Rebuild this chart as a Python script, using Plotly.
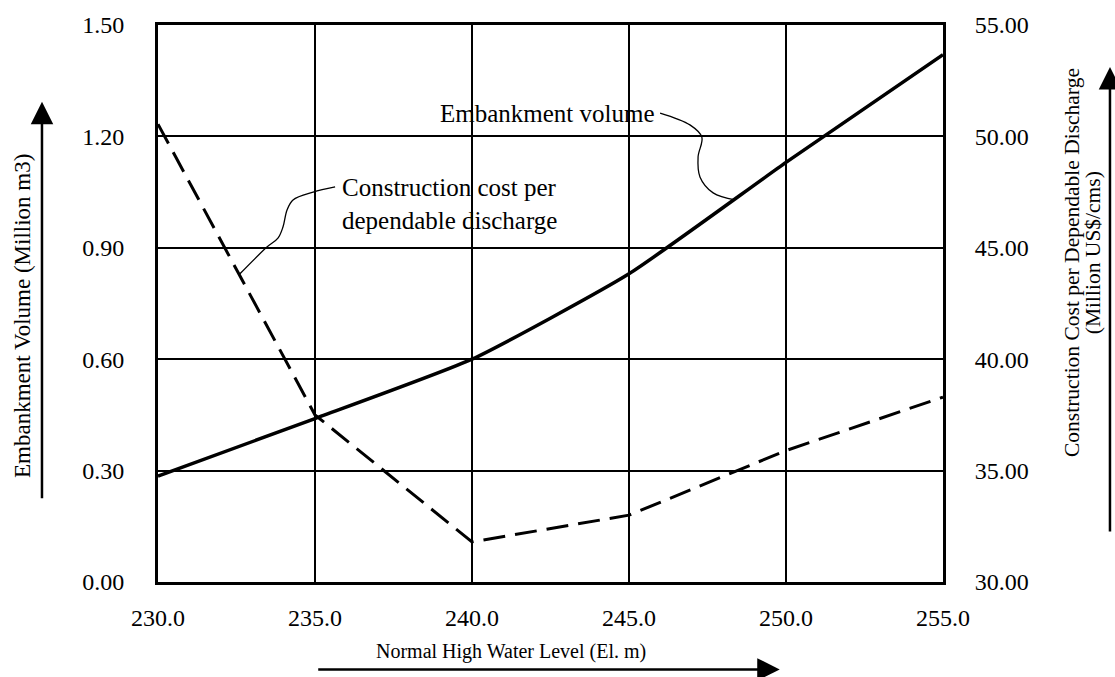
import plotly.graph_objects as go

# Normal high water level (El. m)
water_level = [230.0, 235.0, 240.0, 245.0, 250.0, 255.0]
# Embankment volume (million m3), left axis
embankment_volume = [0.285, 0.44, 0.60, 0.83, 1.13, 1.42]
# Construction cost per dependable discharge (million US$/cms), right axis
cost_per_discharge = [50.55, 37.5, 31.8, 33.0, 35.9, 38.3]

x_ticks = [230, 235, 240, 245, 250, 255]
y_left_ticks = [0.0, 0.3, 0.6, 0.9, 1.2, 1.5]
y_right_ticks = [30, 35, 40, 45, 50, 55]

# Curly leader lines from the labels to the curves
leader_vol_x = [245.99, 246.94, 247.32, 247.20, 247.26, 247.68, 248.38]
leader_vol_y = [1.263, 1.231, 1.198, 1.145, 1.091, 1.048, 1.029]
leader_cost_x = [235.64, 234.94, 234.30, 234.11, 233.98, 233.82, 233.47, 232.61]
leader_cost_y = [1.064, 1.050, 1.029, 1.002, 0.956, 0.926, 0.902, 0.83]

FONT = "Liberation Serif"

fig = go.Figure()

fig.add_trace(go.Scatter(
    x=water_level, y=embankment_volume, mode="lines",
    line=dict(color="black", width=3.5, shape="spline", smoothing=0.5),
    name="Embankment volume", hoverinfo="skip", showlegend=False))

fig.add_trace(go.Scatter(
    x=water_level, y=cost_per_discharge, mode="lines", yaxis="y2",
    line=dict(color="black", width=3, dash="22px,10px"),
    name="Construction cost per dependable discharge",
    hoverinfo="skip", showlegend=False))

for lx, ly in ((leader_vol_x, leader_vol_y), (leader_cost_x, leader_cost_y)):
    fig.add_trace(go.Scatter(
        x=lx, y=ly, mode="lines",
        line=dict(color="black", width=1.3, shape="spline", smoothing=1.0),
        hoverinfo="skip", showlegend=False))

axis_font = dict(family=FONT, size=24, color="black")

fig.update_layout(
    width=1115, height=677,
    margin=dict(l=158, r=172, t=25, b=95),
    paper_bgcolor="white", plot_bgcolor="white",
    font=dict(family=FONT, color="black"),
    xaxis=dict(
        range=[230, 255], tickvals=x_ticks, tickformat=".1f",
        showgrid=True, gridcolor="black", gridwidth=2.2,
        showline=True, linecolor="black", linewidth=3, mirror=True,
        ticks="outside", ticklen=12, tickcolor="rgba(0,0,0,0)",
        tickfont=axis_font, zeroline=False),
    yaxis=dict(
        range=[0, 1.5], tickvals=y_left_ticks, tickformat=".2f",
        showgrid=True, gridcolor="black", gridwidth=2.2,
        showline=True, linecolor="black", linewidth=3, mirror=True,
        ticks="outside", ticklen=26, tickcolor="rgba(0,0,0,0)",
        tickfont=axis_font, zeroline=False),
    yaxis2=dict(
        range=[30, 55], tickvals=y_right_ticks, tickformat=".2f",
        overlaying="y", side="right", showgrid=False, zeroline=False,
        ticks="outside", ticklen=26, tickcolor="rgba(0,0,0,0)",
        tickfont=axis_font),
)

ann = []
# Curve labels
ann.append(dict(x=245.9, y=1.263, xref="x", yref="y", xanchor="right",
                yanchor="middle", text="Embankment volume", showarrow=False,
                font=dict(family=FONT, size=25, color="black")))
ann.append(dict(x=235.8, y=1.018, xref="x", yref="y", xanchor="left",
                yanchor="middle", align="left",
                text="Construction cost per<br>dependable discharge",
                showarrow=False,
                font=dict(family=FONT, size=25, color="black")))

# Axis titles
ann.append(dict(x=-0.172, y=0.4776, xref="paper", yref="paper",
                text="Embankment Volume (Million m3)", textangle=-90,
                showarrow=False, xanchor="center", yanchor="middle",
                font=dict(family=FONT, size=23, color="black")))
ann.append(dict(x=1.1643, y=0.5745, xref="paper", yref="paper",
                text="Construction Cost per Dependable Discharge",
                textangle=-90, showarrow=False, xanchor="center",
                yanchor="middle",
                font=dict(family=FONT, size=21.5, color="black")))
ann.append(dict(x=1.191, y=0.592, xref="paper", yref="paper",
                text="(Million US$/cms)", textangle=-90, showarrow=False,
                xanchor="center", yanchor="middle",
                font=dict(family=FONT, size=21.5, color="black")))
ann.append(dict(x=0.4497, y=-0.124, xref="paper", yref="paper",
                text="Normal High Water Level (El. m)", showarrow=False,
                xanchor="center", yanchor="middle",
                font=dict(family=FONT, size=20, color="black")))

# Direction arrows beside the axis titles
arrow_style = dict(text="", showarrow=True, arrowhead=2, arrowsize=1.8,
                   arrowwidth=2.5, arrowcolor="black",
                   xref="paper", yref="paper", axref="pixel", ayref="pixel")
ann.append(dict(x=-0.1478, y=0.862, ax=0, ay=398, **arrow_style))
ann.append(dict(x=1.2127, y=0.9246, ax=0, ay=466, **arrow_style))
ann.append(dict(x=0.792, y=-0.157, ax=-463, ay=0, **arrow_style))

fig.update_layout(annotations=ann)

fig.write_html("out.html")
